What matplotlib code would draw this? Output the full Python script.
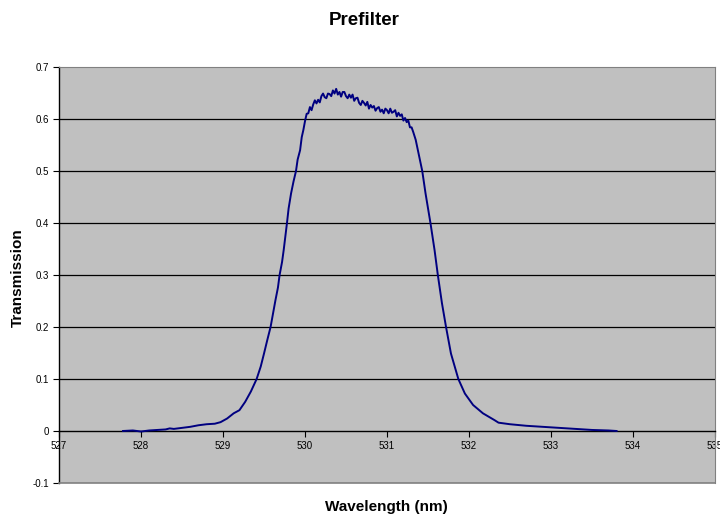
import matplotlib
matplotlib.use("Agg")
import matplotlib.pyplot as plt
import numpy as np

plt.rcParams['font.family'] = ['Liberation Sans', 'DejaVu Sans']

title = "Prefilter"
xlabel = "Wavelength (nm)"
ylabel = "Transmission"
x_ticks = [527, 528, 529, 530, 531, 532, 533, 534, 535]
y_ticks = [-0.1, 0, 0.1, 0.2, 0.3, 0.4, 0.5, 0.6, 0.7]
y_ticklabels = ["-0.1", "0", "0.1", "0.2", "0.3", "0.4", "0.5", "0.6", "0.7"]

rise_wl = [527.78, 527.9, 528.0, 528.1, 528.2, 528.3, 528.35, 528.4, 528.5, 528.6,
           528.7, 528.8, 528.9, 528.97, 529.05, 529.13, 529.2, 529.27, 529.34, 529.41,
           529.46, 529.50, 529.54, 529.58, 529.61, 529.64, 529.67, 529.69, 529.72, 529.74,
           529.76, 529.78, 529.80, 529.83, 529.86, 529.89, 529.91, 529.94, 529.96, 529.98]
rise_tr = [0.000, 0.001, -0.001, 0.001, 0.002, 0.003, 0.005, 0.004, 0.006, 0.008,
           0.011, 0.013, 0.014, 0.017, 0.024, 0.034, 0.040, 0.056, 0.076, 0.100,
           0.124, 0.149, 0.175, 0.200, 0.226, 0.252, 0.276, 0.300, 0.325, 0.348,
           0.374, 0.400, 0.428, 0.457, 0.480, 0.500, 0.522, 0.540, 0.565, 0.579]

top_wl = [530.00, 530.02, 530.04, 530.06, 530.08, 530.10, 530.12, 530.14, 530.16, 530.18,
          530.20, 530.22, 530.24, 530.26, 530.28, 530.30, 530.32, 530.34, 530.36, 530.38,
          530.40, 530.42, 530.44, 530.46, 530.48, 530.50, 530.52, 530.54, 530.56, 530.58,
          530.60, 530.62, 530.64, 530.66, 530.68, 530.70, 530.72, 530.74, 530.76, 530.78,
          530.80, 530.82, 530.84, 530.86, 530.88, 530.90, 530.92, 530.94, 530.96, 530.98,
          531.00, 531.02, 531.04, 531.06, 531.08, 531.10, 531.12, 531.14, 531.16, 531.18,
          531.20, 531.22, 531.24, 531.26, 531.28, 531.30]
top_tr = [0.596, 0.610, 0.611, 0.623, 0.617, 0.628, 0.636, 0.630, 0.637, 0.632,
          0.644, 0.649, 0.642, 0.640, 0.649, 0.648, 0.644, 0.655, 0.649, 0.658,
          0.647, 0.652, 0.643, 0.652, 0.652, 0.644, 0.640, 0.647, 0.641, 0.647,
          0.635, 0.640, 0.641, 0.631, 0.627, 0.635, 0.631, 0.626, 0.633, 0.620,
          0.627, 0.622, 0.625, 0.616, 0.621, 0.623, 0.614, 0.618, 0.611, 0.620,
          0.617, 0.611, 0.620, 0.612, 0.614, 0.617, 0.605, 0.612, 0.606, 0.609,
          0.597, 0.602, 0.594, 0.597, 0.584, 0.584]

fall_wl = [531.32, 531.35, 531.39, 531.43, 531.47, 531.50, 531.53, 531.58, 531.62, 531.67,
           531.72, 531.78, 531.87, 531.95, 532.05, 532.17, 532.31, 532.36, 532.5, 532.7,
           532.9, 533.1, 533.3, 533.5, 533.7, 533.8]
fall_tr = [0.575, 0.560, 0.530, 0.500, 0.457, 0.428, 0.400, 0.348, 0.300, 0.246,
           0.200, 0.149, 0.100, 0.072, 0.050, 0.034, 0.021, 0.016, 0.013, 0.010,
           0.008, 0.006, 0.004, 0.002, 0.001, 0.000]

wl = np.array(rise_wl + top_wl + fall_wl)
tr = np.array(rise_tr + top_tr + fall_tr)

fig = plt.figure(figsize=(7.2, 5.18), dpi=100)
ax = fig.add_axes([0.082, 0.0676, 0.911, 0.803])
ax.set_facecolor('#C0C0C0')

ax.set_xlim(527, 535)
ax.set_ylim(-0.1, 0.7)

for v in [0.1, 0.2, 0.3, 0.4, 0.5, 0.6]:
    ax.axhline(v, color='black', lw=0.9, zorder=1)

ax.plot(wl, tr, color='#000080', lw=1.4, zorder=3)

# spines
ax.spines['left'].set_color('black')
ax.spines['left'].set_linewidth(1.0)
ax.spines['top'].set_color('#808080')
ax.spines['right'].set_color('#808080')
ax.spines['bottom'].set_position(('data', 0))
ax.spines['bottom'].set_color('black')
ax.spines['bottom'].set_linewidth(1.0)
ax.plot([0, 1], [0, 0], transform=ax.transAxes, color='#808080', lw=1.2,
        clip_on=False, zorder=4)

ax.set_xticks(x_ticks)
ax.set_xticklabels([str(t) for t in x_ticks])
ax.set_yticks(y_ticks)
ax.set_yticklabels(y_ticklabels)
ax.tick_params(axis='x', direction='out', length=4, width=0.8, labelsize=7, pad=3)
ax.tick_params(axis='y', direction='out', length=4, width=0.8, labelsize=7, pad=3)

fig.text(0.506, 0.961, title, ha='center', va='center', fontsize=13.5, fontweight='bold')
fig.text(0.025, 0.465, ylabel, ha='center', va='center', rotation=90, fontsize=11,
         fontweight='bold')
fig.text(0.537, 0.021, xlabel, ha='center', va='center', fontsize=11, fontweight='bold')

fig.savefig('out.png', dpi=100)
